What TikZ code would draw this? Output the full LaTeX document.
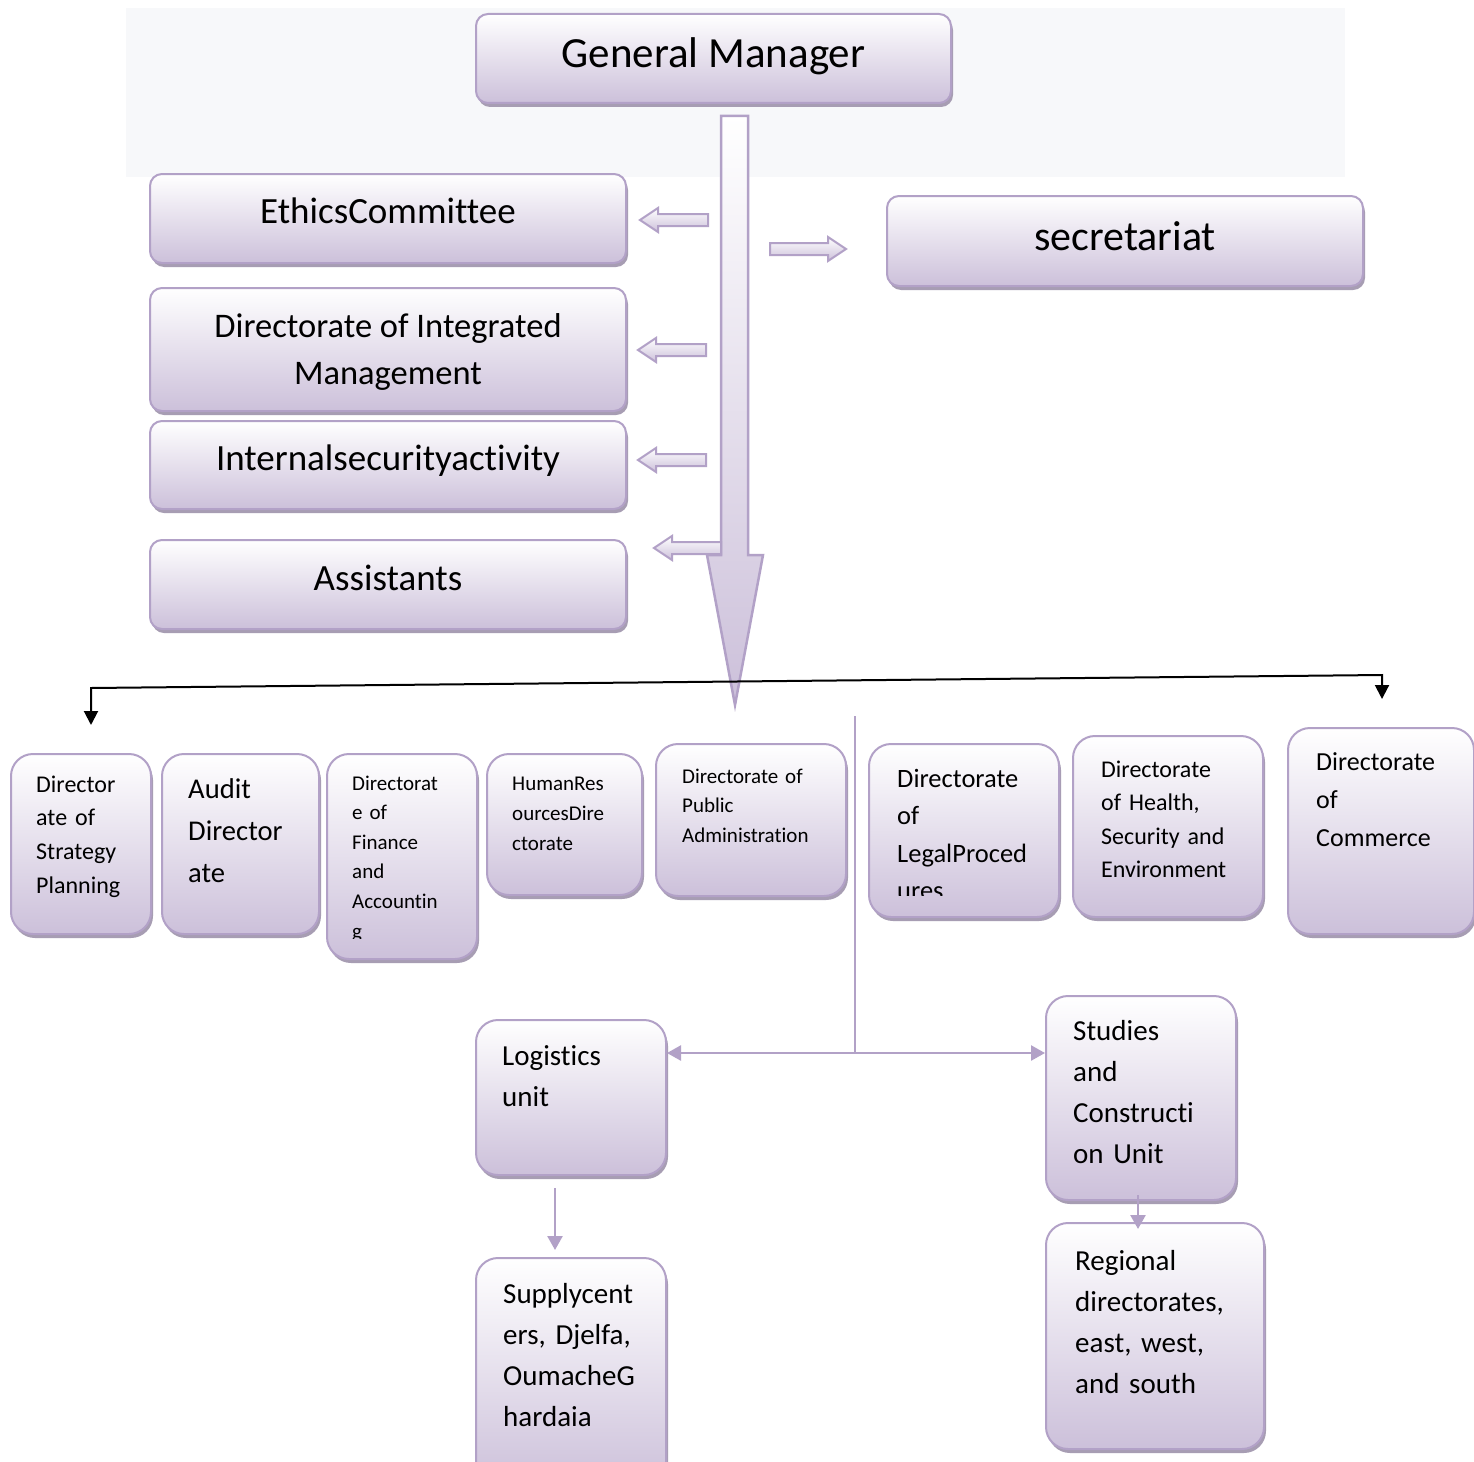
\documentclass[tikz,border=0pt]{standalone}
\usepackage{fontspec}
\setmainfont{Carlito}[Ligatures=NoCommon]
\usetikzlibrary{positioning, arrows.meta, calc, shadows}

\definecolor{lavd}{RGB}{178,161,199}
\definecolor{lav}{RGB}{204,192,218}
\definecolor{shade}{RGB}{167,157,179}
\definecolor{bgc}{RGB}{247,248,250}

\tikzset{
  orgbox/.style={draw=lavd, line width=2pt, rounded corners=12pt, top color=white, bottom color=lav,
    drop shadow={shadow xshift=2pt, shadow yshift=-4pt, fill=shade, opacity=1}, anchor=north west, inner sep=0pt},
  unitbox/.style={orgbox, rounded corners=22pt},
  boxtext/.style={anchor=base west, align=left, text width=230pt, inner sep=0pt},
  link/.style={draw=lavd, line width=2.5pt, -{Triangle[width=15pt,length=14pt]}},
  blockarr/.style={draw=lavd, line width=2pt, top color=white, bottom color=lav},
}

\begin{document}
\begin{tikzpicture}[x=1pt, y=-1pt]
\useasboundingbox (0,0) rectangle (1474,1461);
\fill[white] (0,0) rectangle (1474,1461);
\fill[bgc] (126,8) rectangle (1345,177);

% top level
\node[orgbox, minimum width=475pt, minimum height=89pt] (gm) at (475,13) {};
\node[font=\fontsize{43}{50}\selectfont] (gm-t) at ([yshift=2pt]gm.center) {General Manager};

% main flow arrow
\draw[draw=lavd, line width=2.5pt, top color=white, bottom color=lav]
  (721,116) -- (748,116) -- (748,555) -- (763,555) -- (735,705) -- (707,555) -- (721,555) -- cycle;

\node[orgbox, minimum width=476pt, minimum height=89pt] (ethics) at (149,173) {};
\node[font=\fontsize{37}{44}\selectfont] (ethics-t) at ([yshift=8pt]ethics.center) {EthicsCommittee};
\node[orgbox, minimum width=476pt, minimum height=90pt] (secr) at (886,195) {};
\node[font=\fontsize{42}{50}\selectfont] (secr-t) at ([yshift=5pt]secr.center) {secretariat};
\node[orgbox, minimum width=476pt, minimum height=123pt] (integ) at (149,287) {};
\node[align=center, font=\fontsize{34.5}{47}\selectfont] (integ-t) at ([yshift=-2pt]integ.center) {Directorate of Integrated\\Management};
\node[orgbox, minimum width=476pt, minimum height=88pt] (isec) at (149,420) {};
\node[font=\fontsize{37}{44}\selectfont] (isec-t) at ([yshift=4pt]isec.center) {Internalsecurityactivity};
\node[orgbox, minimum width=476pt, minimum height=89pt] (assist) at (149,539) {};
\node[font=\fontsize{37}{44}\selectfont] (assist-t) at ([yshift=7pt]assist.center) {Assistants};

% side arrows
\foreach \x/\y/\l in {708/220/68, 706/350/68, 706/460/68, 721/548/67}
  \draw[blockarr] (\x,\y-6) -- (\x-\l+18,\y-6) -- (\x-\l+18,\y-12) -- (\x-\l,\y)
    -- (\x-\l+18,\y+12) -- (\x-\l+18,\y+6) -- (\x,\y+6) -- cycle;
\draw[blockarr] (770,243) -- (828,243) -- (828,237) -- (846,249) -- (828,261) -- (828,255) -- (770,255) -- cycle;

% directorates
\node[unitbox, minimum width=140pt, minimum height=180pt] (strat) at (10,753) {};
\node[boxtext, font=\fontsize{24}{33.7}\selectfont] (strat-t) at (36,792) {Director\\ate of\\Strategy\\Planning};

\node[unitbox, minimum width=157pt, minimum height=180pt] (audit) at (161,753) {};
\node[boxtext, font=\fontsize{28.6}{42}\selectfont] (audit-t) at (188,798) {Audit\\Director\\ate};

\node[unitbox, minimum width=150pt, minimum height=205pt] (fin) at (326,753) {};
\begin{scope}
  \clip (326,753) rectangle (476,938);
  \node[boxtext, font=\fontsize{21}{29.6}\selectfont] (fin-t) at (352,790) {Directorat\\e of\\Finance\\and\\Accountin\\g};
\end{scope}

\node[unitbox, minimum width=155pt, minimum height=141pt] (hr) at (486,753) {};
\node[boxtext, font=\fontsize{21}{30}\selectfont] (hr-t) at (512,790) {HumanRes\\ourcesDire\\ctorate};

\node[unitbox, minimum width=190pt, minimum height=152pt] (pub) at (655,743) {};
\node[boxtext, font=\fontsize{21}{29.5}\selectfont] (pub-t) at (682,783) {Directorate of\\Public\\Administration};

\node[unitbox, minimum width=190pt, minimum height=173pt] (legal) at (868,743) {};
\begin{scope}
  \clip (868,743) rectangle (1058,895);
  \node[boxtext, font=\fontsize{26.5}{37.5}\selectfont] (legal-t) at (897,787) {Directorate\\of\\LegalProced\\ures};
\end{scope}

\node[unitbox, minimum width=190pt, minimum height=181pt] (hse) at (1072,735) {};
\node[boxtext, font=\fontsize{24}{33.5}\selectfont] (hse-t) at (1101,777) {Directorate\\of Health,\\Security and\\Environment};

\node[unitbox, minimum width=186pt, minimum height=206pt] (comm) at (1287,727) {};
\node[boxtext, font=\fontsize{26}{38}\selectfont] (comm-t) at (1316,770) {Directorate\\of\\Commerce};

% branch line over the directorates
\coordinate (lt) at (91,725);
\coordinate (lc) at (91,688);
\coordinate (rc) at (1382,675);
\coordinate (rt) at (1382,699);
\draw[line width=2pt, {Triangle[width=14pt,length=14pt]}-{Triangle[width=14pt,length=14pt]}] (lt) -- (lc) -- (rc) -- (rt);

% units
\node[unitbox, minimum width=190pt, minimum height=155pt] (logi) at (475,1019) {};
\node[boxtext, font=\fontsize{29}{41}\selectfont] (logi-t) at (502,1065) {Logistics\\unit};

\node[unitbox, minimum width=190pt, minimum height=204pt] (studies) at (1045,995) {};
\node[boxtext, font=\fontsize{29}{41}\selectfont] (studies-t) at (1073,1040) {Studies\\and\\Constructi\\on Unit};

\node[unitbox, minimum width=190pt, minimum height=230pt] (supply) at (475,1257) {};
\node[boxtext, font=\fontsize{29}{41}\selectfont] (supply-t) at (503,1303) {Supplycent\\ers, Djelfa,\\OumacheG\\hardaia};

\node[unitbox, minimum width=218pt, minimum height=226pt] (regio) at (1045,1222) {};
\node[boxtext, font=\fontsize{29}{41}\selectfont] (regio-t) at (1075,1270) {Regional\\directorates,\\east, west,\\and south};

% unit connectors
\coordinate (split) at (855,716);
\coordinate (junc) at (855,1053);
\draw[draw=lavd, line width=2.5pt] (split) -- (junc);
\draw[link] (junc) -- (junc -| logi.east);
\draw[link] (junc) -- (junc -| studies.west);
\draw[link] ([xshift=-16pt,yshift=-12pt]logi.south) -- ([xshift=-16pt,yshift=7pt]supply.north);
\draw[link] ([xshift=-3pt,yshift=6pt]studies.south) -- ++(0,34);
\end{tikzpicture}
\end{document}
